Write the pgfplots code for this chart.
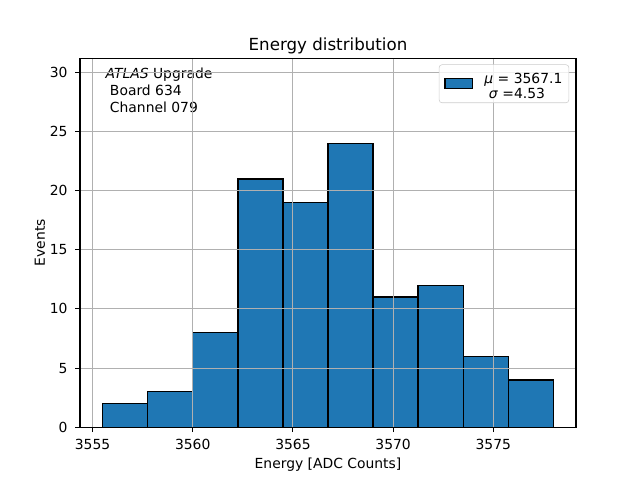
\documentclass[border=0pt]{standalone}
\usepackage{fontspec}
\setmainfont{DejaVu Sans}
\usepackage{pgfplots}
\pgfplotsset{compat=1.18}
\definecolor{mplblue}{HTML}{1F77B4}
\definecolor{mplgrid}{HTML}{B0B0B0}
\begin{document}
\begin{tikzpicture}
  % figure frame: 640x480 px, 1 px = 0.72pt
  \path[use as bounding box] (-57.6pt,-38.016pt) rectangle (403.2pt,307.584pt);
  \begin{axis}[
    at={(0,0)}, anchor=south west,
    scale only axis,
    width=357.12pt, height=265.68pt,
    xmin=3554.375, xmax=3579.125,
    ymin=0, ymax=31.2,
    xtick={3555,3560,3565,3570,3575},
    ytick={0,5,10,15,20,25,30},
    grid=major,
    grid style={mplgrid, line width=0.8pt},
    axis on top,
    axis line style={line width=0.8pt},
    tick align=outside,
    major tick length=3.5pt,
    tick style={black, line width=0.8pt},
    xtick pos=bottom, ytick pos=left,
    /pgf/number format/assume math mode=true,
    /pgf/number format/1000 sep={},
    tick label style={font=\fontsize{10}{12}\selectfont},
    xticklabel style={anchor=base, yshift=-12.6pt},
    yticklabel style={anchor=east, xshift=-2pt},
    title={Energy distribution},
    title style={at={(axis description cs:0.5,1)}, anchor=base, yshift=-0.7pt,
      font=\fontsize{12}{14}\selectfont},
    xlabel={Energy [ADC Counts]},
    xlabel style={at={(axis description cs:0.5,0)}, anchor=base, yshift=-29.4pt,
      font=\fontsize{10}{12}\selectfont},
    ylabel={Events},
    ylabel style={at={(axis description cs:0,0.5)}, anchor=base, rotate=0,
      yshift=25.2pt, font=\fontsize{10}{12}\selectfont},
    legend style={at={(rel axis cs:1,1)}, anchor=north east,
      xshift=-5pt, yshift=-4.5pt, draw=black!20, rounded corners=2pt,
      fill=white, fill opacity=0.8, text opacity=1,
      font=\fontsize{10}{12}\selectfont, inner xsep=3.6pt, inner ysep=6.3pt,
      nodes={inner sep=0pt, anchor=center}},
    legend image code/.code={
      \draw[sharp corners, fill=mplblue, draw=black, line width=1pt, fill opacity=1]
        (-10pt,-3.6pt) rectangle (10pt,3.6pt);
    },
  ]
    \addplot[ybar interval, fill=mplblue, draw=black, line width=1pt]
      coordinates {
        (3555.50,2) (3557.75,3) (3560.00,8) (3562.25,21) (3564.50,19)
        (3566.75,24) (3569.00,11) (3571.25,12) (3573.50,6) (3575.75,4)
        (3578.00,4)
      };
    \addlegendentry{\renewcommand\arraystretch{0.9}\begin{tabular}{@{\hspace{8pt}}l@{\hspace{1pt}}}\textit{μ} = 3567.1\\ \ \textit{σ} =4.53\end{tabular}}
    \node[anchor=north west, align=left, inner sep=0pt,
      font=\fontsize{10}{12.2}\selectfont]
      at (rel axis cs:0.051,0.975)
      {\textit{ATLAS} Upgrade\\ \ Board 634\\ \ Channel 079};
  \end{axis}
\end{tikzpicture}
\end{document}
